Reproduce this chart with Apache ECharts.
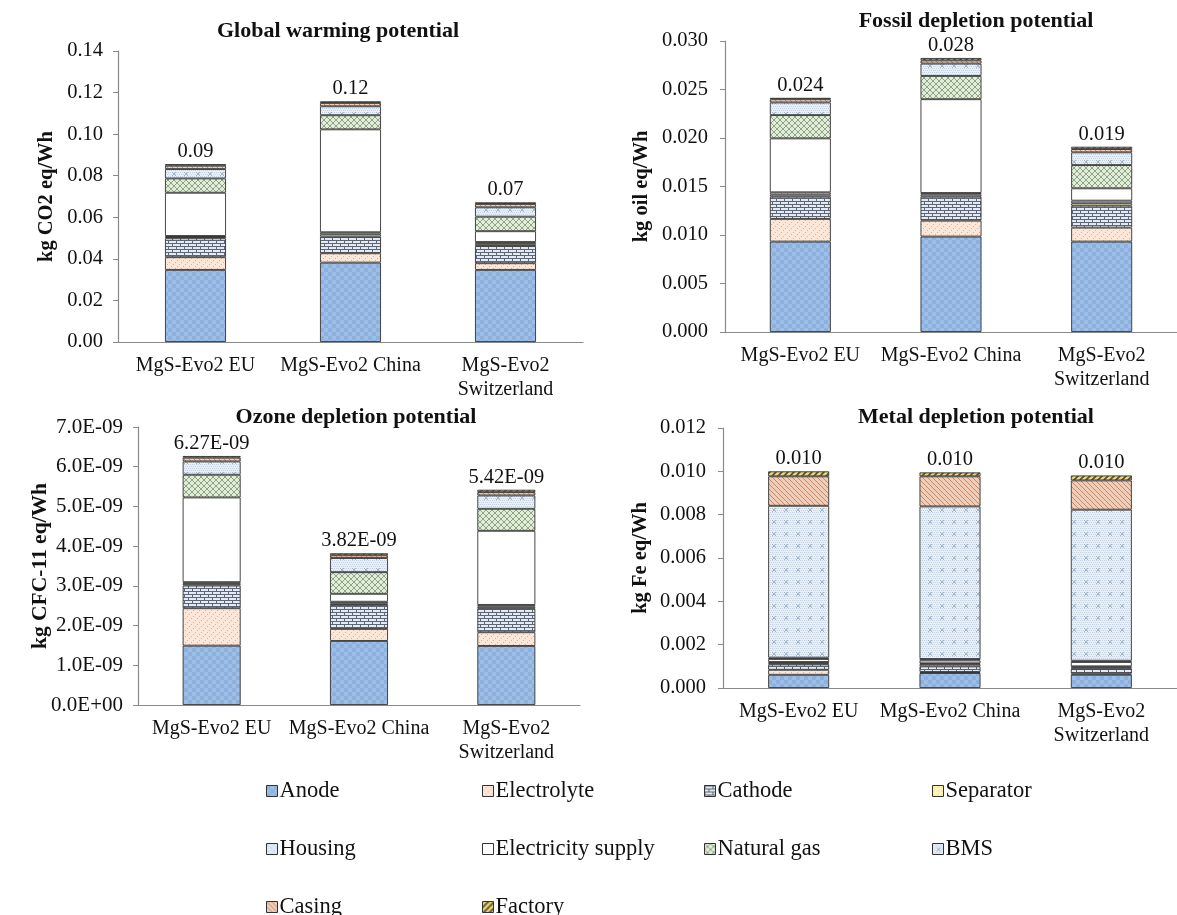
<!DOCTYPE html>
<html>
<head>
<meta charset="utf-8">
<script src="https://cdn.jsdelivr.net/npm/echarts@6/dist/echarts.min.js"></script>
<style>
html,body{margin:0;padding:0;background:#fff;}
#chart{width:1177px;height:915px;}
</style>
</head>
<body>
<div id="chart"></div>
<script>
// ---------- DATA ----------
const categories = ['MgS-Evo2 EU', 'MgS-Evo2 China', 'MgS-Evo2\nSwitzerland'];
const components = ['Anode', 'Electrolyte', 'Cathode', 'Separator', 'Housing',
  'Electricity supply', 'Natural gas', 'BMS', 'Casing', 'Factory'];

// segment values per component: [EU, China, Switzerland]
const gwpValues = [
  [0.0347, 0.0382, 0.0347],
  [0.0061, 0.0045, 0.0032],
  [0.0091, 0.0080, 0.0083],
  [0.0006, 0.0011, 0.0010],
  [0.0005, 0.0010, 0.0009],
  [0.0208, 0.0495, 0.0052],
  [0.0069, 0.0068, 0.0070],
  [0.0045, 0.0043, 0.0045],
  [0.0016, 0.0016, 0.0016],
  [0.0008, 0.0008, 0.0008]
];
const fossilValues = [
  [0.00932, 0.00984, 0.00932],
  [0.00234, 0.00164, 0.00144],
  [0.00229, 0.00247, 0.00226],
  [0.00021, 0.00021, 0.00025],
  [0.00024, 0.00017, 0.00027],
  [0.00556, 0.00967, 0.00127],
  [0.00240, 0.00240, 0.00240],
  [0.00130, 0.00127, 0.00131],
  [0.00034, 0.00033, 0.00034],
  [0.00014, 0.00025, 0.00024]
];
const ozoneValues = [
  [1.495e-9, 1.613e-9, 1.487e-9],
  [0.942e-9, 0.303e-9, 0.345e-9],
  [0.571e-9, 0.604e-9, 0.605e-9],
  [0.042e-9, 0.040e-9, 0.043e-9],
  [0.043e-9, 0.040e-9, 0.040e-9],
  [2.133e-9, 0.200e-9, 1.866e-9],
  [0.572e-9, 0.545e-9, 0.554e-9],
  [0.335e-9, 0.355e-9, 0.336e-9],
  [0.094e-9, 0.070e-9, 0.084e-9],
  [0.043e-9, 0.050e-9, 0.060e-9]
];
const metalValues = [
  [0.00061, 0.00069, 0.00061],
  [0.00023, 0.00005, 0.00006],
  [0.00025, 0.00026, 0.00023],
  [0.00005, 0.00010, 0.00005],
  [0.00006, 0.00004, 0.00005],
  [0.00014, 0.00013, 0.00020],
  [0.00006, 0.00007, 0.00006],
  [0.00701, 0.00704, 0.00697],
  [0.00136, 0.00139, 0.00135],
  [0.00023, 0.00018, 0.00023]
];
const gwpLabels = ['0.09', '0.12', '0.07'];
const fossilLabels = ['0.024', '0.028', '0.019'];
const ozoneLabels = ['6.27E-09', '3.82E-09', '5.42E-09'];
const metalLabels = ['0.010', '0.010', '0.010'];

const panelTitles = ['Global warming potential', 'Fossil depletion potential',
  'Ozone depletion potential', 'Metal depletion potential'];
const axisNames = ['kg CO2 eq/Wh', 'kg oil eq/Wh', 'kg CFC-11 eq/Wh', 'kg Fe eq/Wh'];

// ---------- PATTERNS ----------
function mk(w, h, draw) {
  const c = document.createElement('canvas');
  c.width = w; c.height = h;
  const g = c.getContext('2d');
  draw(g, w, h);
  return { image: c, repeat: 'repeat' };
}
const patterns = [
  mk(8, 8, (g) => { g.fillStyle = '#9dbee6'; g.fillRect(0,0,8,8); g.fillStyle = '#8eb0dc'; g.fillRect(0,0,4,4); g.fillRect(4,4,4,4); }),
  mk(6, 6, (g) => { g.fillStyle = '#fce6d7'; g.fillRect(0,0,6,6); g.fillStyle = '#e4ae90'; g.fillRect(5,0,1,1); g.fillRect(3,2,1,1); g.fillRect(1,4,1,1); }),
  mk(8, 6, (g) => { g.fillStyle = '#e3eaf3'; g.fillRect(0,0,8,6); g.fillStyle = '#5d6675'; g.fillRect(0,0,8,1); g.fillRect(0,3,8,1); g.fillRect(0,1,1,2); g.fillRect(4,4,1,2); }),
  mk(4, 4, (g) => { g.fillStyle = '#fff3b8'; g.fillRect(0,0,4,4); g.fillStyle = '#e6cf60'; g.fillRect(1,1,1,1); }),
  mk(6, 6, (g) => { g.fillStyle = '#dde9f6'; g.fillRect(0,0,6,6); g.fillStyle = '#a3bad4'; g.fillRect(1,1,1,1); g.fillRect(4,4,1,1); }),
  '#ffffff',
  mk(6, 6, (g) => { g.fillStyle = '#e2ecda'; g.fillRect(0,0,6,6); g.strokeStyle = '#8ea581'; g.lineWidth = 1;
    g.beginPath(); g.moveTo(0,0); g.lineTo(6,6); g.moveTo(6,0); g.lineTo(0,6); g.stroke(); }),
  mk(12, 12, (g) => { g.fillStyle = '#e9f0f8'; g.fillRect(0,0,12,12); g.fillStyle = '#c3d1e2';
    for (let y = 0; y < 12; y += 2) for (let x = (y % 4 === 0 ? 0 : 1); x < 12; x += 2) g.fillRect(x, y, 1, 1);
    g.fillStyle = '#9fb3cb'; g.fillRect(5,5,2,2); g.fillRect(4,4,1,1); g.fillRect(7,4,1,1); g.fillRect(4,7,1,1); g.fillRect(7,7,1,1); }),
  mk(5, 5, (g) => { g.fillStyle = '#efcdb8'; g.fillRect(0,0,5,5); g.strokeStyle = '#c18a6c'; g.lineWidth = 1;
    g.beginPath(); g.moveTo(0,0); g.lineTo(5,5); g.stroke(); }),
  mk(6, 6, (g) => { g.fillStyle = '#f2d85e'; g.fillRect(0,0,6,6); g.strokeStyle = '#4a4a4a'; g.lineWidth = 1.6;
    g.beginPath(); g.moveTo(0,6); g.lineTo(6,0); g.moveTo(-3,3); g.lineTo(3,-3); g.moveTo(3,9); g.lineTo(9,3); g.stroke(); })
];

// ---------- LAYOUT ----------
const FONT = '"Liberation Serif", "Times New Roman", serif';
const grids = [
  { left: 118, top: 51, width: 465, height: 291 },
  { left: 725, top: 41, width: 459, height: 291 },
  { left: 138, top: 427, width: 442, height: 278 },
  { left: 723, top: 428, width: 463, height: 260 }
];
const titlePos = [[333, 15], [971, 5], [351, 401], [971, 401]];
const yCfg = [
  { max: 0.14, interval: 0.02, fmt: v => v.toFixed(2), gap: 61, tick: 20.5, margin: 15 },
  { max: 0.03, interval: 0.005, fmt: v => v.toFixed(3), gap: 73, tick: 20.5, margin: 17 },
  { max: 7e-9, interval: 1e-9, fmt: v => (v === 0 ? '0.0E+00' : (v * 1e9).toFixed(1) + 'E-09'), gap: 87, tick: 21, margin: 15 },
  { max: 0.012, interval: 0.002, fmt: v => v.toFixed(3), gap: 72, tick: 20.5, margin: 17 }
];
const nameSize = [20.5, 20.5, 21.5, 20.5];
const barW = [61, 61, 58, 61];
const allValues = [gwpValues, fossilValues, ozoneValues, metalValues];
const allLabels = [gwpLabels, fossilLabels, ozoneLabels, metalLabels];

// legend item positions (column x, row center y)
const legendCols = [266, 482, 704, 932];
const legendRows = [791, 849, 907];
const legendGrid = [
  ['Anode', 'Electrolyte', 'Cathode', 'Separator'],
  ['Housing', 'Electricity supply', 'Natural gas', 'BMS'],
  ['Casing', 'Factory']
];

const legends = [];
legendGrid.forEach((row, r) => row.forEach((name, c) => {
  legends.push({
    data: [name], orient: 'horizontal', left: legendCols[c], top: legendRows[r] - 12,
    padding: 0, itemGap: 0, itemWidth: 11, itemHeight: 11, icon: 'rect',
    selectedMode: false,
    itemStyle: { borderColor: '#333', borderWidth: 1 },
    textStyle: { fontFamily: FONT, fontSize: 22.5, color: '#111', lineHeight: 24, padding: [0, 0, 0, -3] }
  });
}));

const option = {
  animation: false,
  backgroundColor: '#ffffff',
  textStyle: { fontFamily: FONT },
  title: panelTitles.map((t, i) => ({
    text: t, left: titlePos[i][0], top: titlePos[i][1], textAlign: 'center',
    textStyle: { fontFamily: FONT, fontSize: 22, fontWeight: 'bold', color: '#111' }
  })),
  grid: grids.map(g => Object.assign({ containLabel: false }, g)),
  xAxis: grids.map((g, i) => ({
    type: 'category', gridIndex: i, data: categories,
    axisLine: { lineStyle: { color: '#8a8a8a', width: 1.2 } },
    axisTick: { show: false },
    axisLabel: { fontFamily: FONT, fontSize: 20, color: '#111', margin: 12, lineHeight: 24, interval: 0 }
  })),
  yAxis: grids.map((g, i) => ({
    type: 'value', gridIndex: i, min: 0, max: yCfg[i].max, interval: yCfg[i].interval,
    name: axisNames[i], nameLocation: 'middle', nameGap: yCfg[i].gap, nameMoveOverlap: false,
    nameTextStyle: { fontFamily: FONT, fontSize: nameSize[i], fontWeight: 'bold', color: '#111' },
    axisLine: { show: true, lineStyle: { color: '#8a8a8a', width: 1.2 } },
    axisTick: { show: true, length: 5, lineStyle: { color: '#8a8a8a' } },
    splitLine: { show: false },
    axisLabel: { fontFamily: FONT, fontSize: yCfg[i].tick, color: '#111', margin: yCfg[i].margin, formatter: yCfg[i].fmt }
  })),
  legend: legends,
  series: []
};

allValues.forEach((vals, p) => {
  components.forEach((name, k) => {
    const s = {
      name: name, type: 'bar', stack: 'p' + p,
      xAxisIndex: p, yAxisIndex: p, barWidth: barW[p],
      data: vals[k],
      itemStyle: { color: patterns[k], borderColor: '#333', borderWidth: 0.9 }
    };
    if (k === components.length - 1) {
      s.label = {
        show: true, position: 'top', distance: 2,
        fontFamily: FONT, fontSize: 20.5, color: '#111',
        formatter: (pp) => allLabels[p][pp.dataIndex]
      };
    }
    option.series.push(s);
  });
});

const chart = echarts.init(document.getElementById('chart'), null, { renderer: 'canvas' });
chart.setOption(option);
</script>
</body>
</html>
